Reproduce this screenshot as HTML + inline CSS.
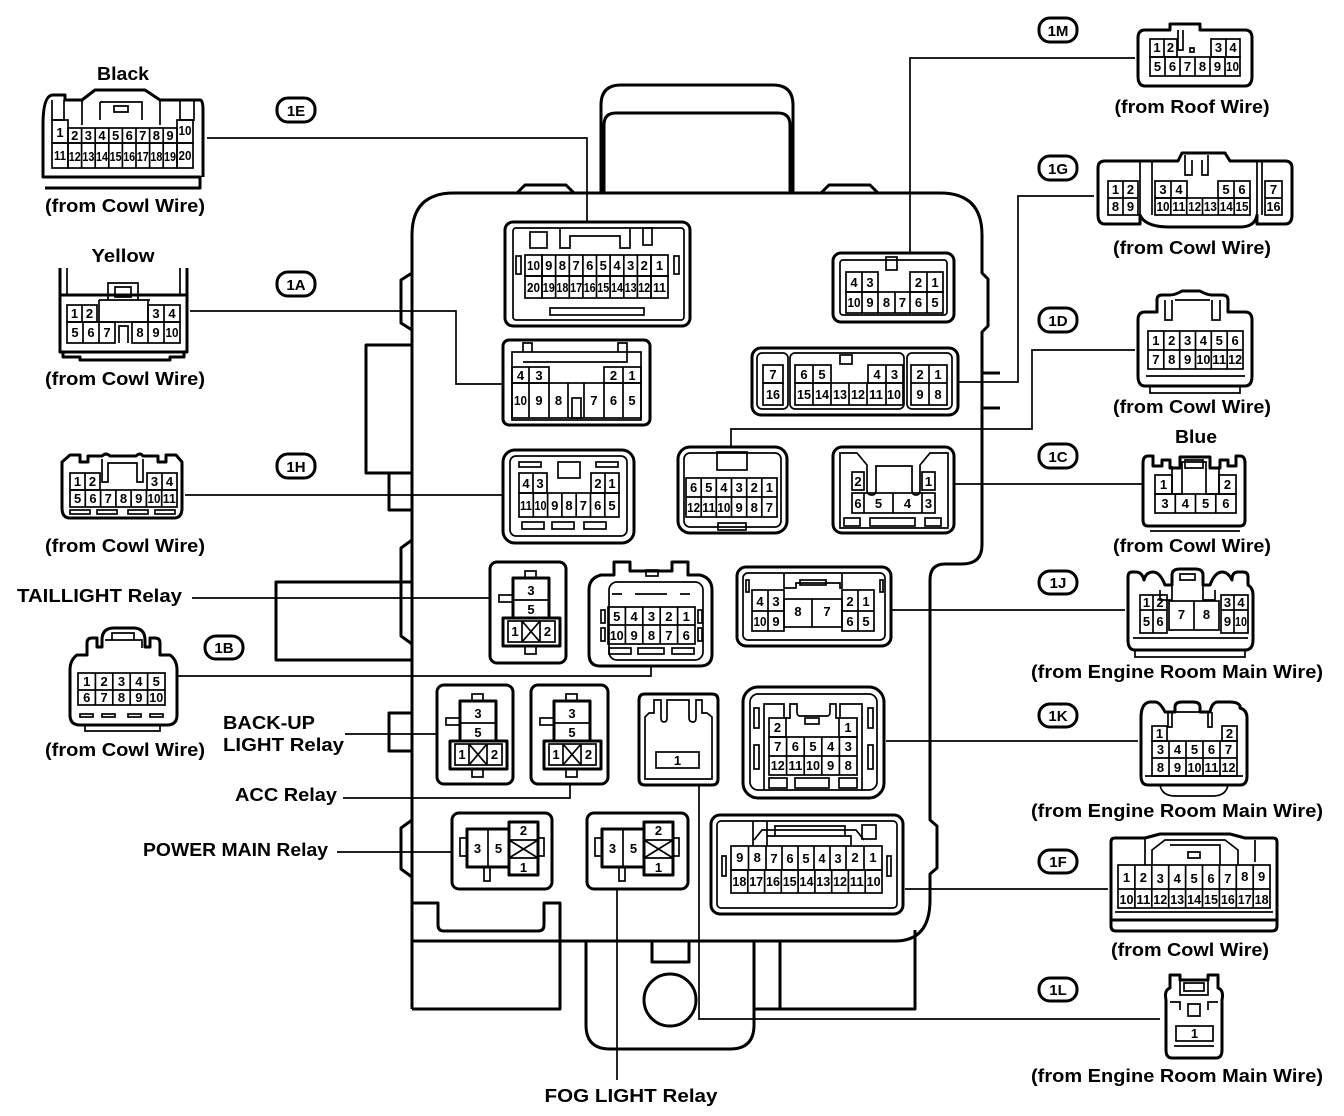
<!DOCTYPE html>
<html><head><meta charset="utf-8"><style>
html,body{margin:0;padding:0;background:#fff}
svg{display:block}
.o{fill:none;stroke:#000;stroke-width:3;stroke-linejoin:round}
.c{fill:none;stroke:#000;stroke-width:1.7}
.l{fill:none;stroke:#000;stroke-width:1.7}
text{font-family:"Liberation Sans",Arial,sans-serif;fill:#000}
.n{font-size:13px;font-weight:bold;text-anchor:middle}
.lb{font-size:18px;font-weight:bold}
.m{text-anchor:middle}
.p{font-size:15px;font-weight:bold;text-anchor:middle}
</style></head><body>
<svg width="1344" height="1116" viewBox="0 0 1344 1116" xmlns="http://www.w3.org/2000/svg">

<!-- ===== MAIN BODY ===== -->
<path class="o" d="M601 193 V105 Q601 85 621 85 H773 Q793 85 793 105 V193"/>
<path class="o" d="M604 193 V125 Q604 113 616 113 H778 Q790 113 790 125 V193"/>
<path class="o" d="M412 1009 V235 Q412 193 454 193 H940 Q982 193 982 235 V273 L988 279 V326 L982 332 V545 Q982 564 962 564 H945 Q930 564 930 580 V820 L937 826 V868 L930 874 V900 Q930 941 895 941 H412"/>
<path class="o" d="M517 193 L525 185 H566 L574 193 M821 193 L829 185 H870 L878 193"/>
<path class="o" d="M982 373 H1000 M982 408 H1000"/>
<path class="o" d="M412 273 L401 280 V323 L412 330"/>
<path class="o" d="M412 345 H366 V473 H412 M389 473 V510 H412"/>
<path class="o" d="M412 582 H276 V660 H412"/>
<path class="o" d="M412 540 L401 548 V636 L412 644"/>
<path class="o" d="M412 713 H389 V751 H412"/>
<path class="o" d="M412 820 L401 828 V869 L412 877"/>
<path class="o" d="M412 903 H438 V925 Q438 931 444 931 H538 Q544 931 544 925 V903 H560 V1009 H412"/>
<path class="o" d="M586 941 V1025 Q586 1049 610 1049 H730 Q754 1049 754 1025 V941"/>
<path class="o" d="M652 941 V962 H689 V941"/>
<path class="o" d="M754 1009 H915 V930 M780 941 V1009"/>
<circle class="o" cx="670" cy="1000" r="26"/>

<!-- ===== 1E socket ===== -->
<rect class="o" x="505" y="222" width="185" height="104" rx="8"/>
<rect class="c" x="513" y="228" width="171" height="92" rx="3"/>
<path class="c" d="M560 228 V248 H570 V236 H620 V248 H630 V228"/>
<rect class="c" x="530" y="232" width="17" height="16"/>
<rect class="c" x="643" y="228" width="9" height="17"/>
<rect class="c" x="550" y="308" width="94" height="7"/>
<rect class="c" x="516" y="256" width="5" height="18"/><rect class="c" x="674" y="256" width="5" height="18"/>
<g class="c">
<rect x="525" y="255" width="17" height="21"/><rect x="542" y="255" width="109" height="21"/><rect x="651" y="255" width="17" height="21"/>
<rect x="525" y="276" width="17" height="22"/><rect x="542" y="276" width="109" height="22"/><rect x="651" y="276" width="17" height="22"/>
<path d="M555.6 255V298M569.3 255V298M582.9 255V298M596.5 255V298M610.1 255V298M623.8 255V298M637.4 255V298"/>
</g>
<g class="n">
<text x="533.5" y="270" textLength="13" lengthAdjust="spacingAndGlyphs">10</text><text x="548.8" y="270">9</text><text x="562.4" y="270">8</text><text x="576.1" y="270">7</text><text x="589.7" y="270">6</text><text x="603.3" y="270">5</text><text x="617" y="270">4</text><text x="630.6" y="270">3</text><text x="644.2" y="270">2</text><text x="659.5" y="270">1</text>
<text x="533.5" y="292" textLength="13" lengthAdjust="spacingAndGlyphs">20</text><text x="548.8" y="292" textLength="12" lengthAdjust="spacingAndGlyphs">19</text><text x="562.4" y="292" textLength="12" lengthAdjust="spacingAndGlyphs">18</text><text x="576.1" y="292" textLength="12" lengthAdjust="spacingAndGlyphs">17</text><text x="589.7" y="292" textLength="12" lengthAdjust="spacingAndGlyphs">16</text><text x="603.3" y="292" textLength="12" lengthAdjust="spacingAndGlyphs">15</text><text x="617" y="292" textLength="12" lengthAdjust="spacingAndGlyphs">14</text><text x="630.6" y="292" textLength="12" lengthAdjust="spacingAndGlyphs">13</text><text x="644.2" y="292" textLength="12" lengthAdjust="spacingAndGlyphs">12</text><text x="659.5" y="292" textLength="13" lengthAdjust="spacingAndGlyphs">11</text>
</g>

<!-- ===== 1M socket ===== -->
<rect class="o" x="833" y="253" width="121" height="69" rx="8"/>
<rect class="c" x="840" y="260" width="107" height="55" rx="3"/>
<rect class="c" x="886" y="257" width="11" height="13"/>
<g class="c">
<rect x="846" y="272" width="32" height="20"/><path d="M862 272V313"/>
<rect x="910" y="272" width="33" height="20"/><path d="M927 272V313"/>
<rect x="846" y="292" width="97" height="21"/><path d="M878 292V313M895 292V313M910 292V313"/>
</g>
<g class="n">
<text x="854" y="287">4</text><text x="870" y="287">3</text><text x="918.5" y="287">2</text><text x="935" y="287">1</text>
<text x="854" y="307" textLength="13" lengthAdjust="spacingAndGlyphs">10</text><text x="870" y="307">9</text><text x="886.5" y="307">8</text><text x="902.5" y="307">7</text><text x="918.5" y="307">6</text><text x="935" y="307">5</text>
</g>

<!-- ===== 1A socket ===== -->
<rect class="o" x="503" y="340" width="147" height="85" rx="6"/>
<rect class="c" x="512" y="352" width="129" height="68"/>
<path class="c" d="M523 352 V343 H532 V352 M618 352 V343 H627 V352 M523 362 H627 V352"/>
<g class="c">
<rect x="512" y="367" width="37" height="16"/><path d="M529 367V418"/>
<rect x="604" y="367" width="37" height="16"/><path d="M623 367V418"/>
<rect x="512" y="383" width="129" height="35"/><path d="M549 383V418M568 383V418M584 383V418M604 383V418"/>
<rect x="572" y="398" width="9" height="20"/>
</g>
<g class="n">
<text x="520.5" y="380">4</text><text x="539" y="380">3</text><text x="613.5" y="380">2</text><text x="632" y="380">1</text>
<text x="520.5" y="405" textLength="13" lengthAdjust="spacingAndGlyphs">10</text><text x="539" y="405">9</text><text x="558.5" y="405">8</text><text x="594" y="405">7</text><text x="613.5" y="405">6</text><text x="632" y="405">5</text>
</g>

<!-- ===== 1G socket ===== -->
<rect class="o" x="752" y="348" width="206" height="67" rx="9"/>
<rect class="c" x="757" y="353" width="31" height="56" rx="5"/>
<rect class="c" x="790" y="353" width="114" height="56" rx="5"/>
<rect class="c" x="907" y="353" width="45" height="56" rx="5"/>
<rect class="c" x="840" y="355" width="12" height="9"/>
<g class="c">
<rect x="763" y="365" width="20" height="18"/><rect x="763" y="383" width="20" height="22"/>
<rect x="795" y="365" width="36" height="18"/><path d="M813 365V405"/>
<rect x="868" y="365" width="35" height="18"/><path d="M886 365V405"/>
<rect x="795" y="383" width="108" height="22"/><path d="M831 383V405M849 383V405M867 383V405"/>
<rect x="911" y="365" width="36" height="40"/><path d="M929 365V405M911 383H947"/>
</g>
<g class="n">
<text x="773" y="379">7</text><text x="773" y="399" textLength="14" lengthAdjust="spacingAndGlyphs">16</text>
<text x="804" y="379">6</text><text x="822" y="379">5</text><text x="877" y="379">4</text><text x="894.5" y="379">3</text>
<text x="804" y="399" textLength="14" lengthAdjust="spacingAndGlyphs">15</text><text x="822" y="399" textLength="14" lengthAdjust="spacingAndGlyphs">14</text><text x="840" y="399" textLength="14" lengthAdjust="spacingAndGlyphs">13</text><text x="858" y="399" textLength="14" lengthAdjust="spacingAndGlyphs">12</text><text x="876" y="399" textLength="14" lengthAdjust="spacingAndGlyphs">11</text><text x="894" y="399" textLength="14" lengthAdjust="spacingAndGlyphs">10</text>
<text x="920" y="379">2</text><text x="938" y="379">1</text><text x="920" y="399">9</text><text x="938" y="399">8</text>
</g>

<!-- ===== 1H socket ===== -->
<rect class="o" x="503" y="450" width="131" height="93" rx="12"/>
<rect class="c" x="510" y="456" width="117" height="80" rx="6"/>
<rect class="c" x="558" y="462" width="22" height="16"/>
<rect class="c" x="519" y="462" width="22" height="5"/><rect class="c" x="596" y="462" width="22" height="5"/>
<g class="c">
<rect x="519" y="473" width="28" height="20"/><path d="M533 473V493"/>
<rect x="591" y="473" width="28" height="20"/><path d="M605 473V493"/>
<rect x="519" y="493" width="100" height="24"/><path d="M533.3 493V517M547.6 493V517M561.9 493V517M576.2 493V517M590.5 493V517M604.8 493V517"/>
<rect x="522" y="522" width="22" height="7"/><rect x="552" y="522" width="22" height="7"/><rect x="584" y="522" width="22" height="7"/>
</g>
<g class="n">
<text x="526" y="488">4</text><text x="540" y="488">3</text><text x="598" y="488">2</text><text x="612" y="488">1</text>
<text x="526" y="510" textLength="12" lengthAdjust="spacingAndGlyphs">11</text><text x="540.5" y="510" textLength="12" lengthAdjust="spacingAndGlyphs">10</text><text x="554.8" y="510">9</text><text x="569" y="510">8</text><text x="583.4" y="510">7</text><text x="597.7" y="510">6</text><text x="612" y="510">5</text>
</g>

<!-- ===== 1D socket ===== -->
<rect class="o" x="678" y="447" width="109" height="86" rx="12"/>
<rect class="c" x="684" y="453" width="97" height="74" rx="6"/>
<rect class="c" x="717" y="452" width="30" height="18"/>
<rect class="c" x="718" y="523" width="28" height="7"/>
<g class="c">
<rect x="686" y="478" width="91" height="39"/><path d="M686 497H777M701.2 478V517M716.3 478V517M731.5 478V517M746.7 478V517M761.8 478V517"/>
</g>
<g class="n">
<text x="693.6" y="492">6</text><text x="708.8" y="492">5</text><text x="723.9" y="492">4</text><text x="739.1" y="492">3</text><text x="754.3" y="492">2</text><text x="769.4" y="492">1</text>
<text x="693.6" y="512" textLength="13" lengthAdjust="spacingAndGlyphs">12</text><text x="708.8" y="512" textLength="13" lengthAdjust="spacingAndGlyphs">11</text><text x="723.9" y="512" textLength="13" lengthAdjust="spacingAndGlyphs">10</text><text x="739.1" y="512">9</text><text x="754.3" y="512">8</text><text x="769.4" y="512">7</text>
</g>

<!-- ===== 1C socket ===== -->
<rect class="o" x="833" y="447" width="121" height="86" rx="9"/>
<path class="c" d="M840 528 V453 H857 L867 465 V490 Q867 495 872 495 Q876 495 876 490 V466 H912 V490 Q912 495 916 495 Q920 495 920 490 V465 L930 453 H948 V528 Z"/>
<g class="c">
<rect x="852" y="472" width="12" height="18"/><rect x="922" y="472" width="13" height="18"/>
<rect x="852" y="493" width="83" height="20"/><path d="M864 493V513M893 493V513M922 493V513"/>
<rect x="844" y="518" width="16" height="8"/><rect x="870" y="518" width="45" height="8"/><rect x="925" y="518" width="16" height="8"/>
</g>
<g class="n">
<text x="858" y="486">2</text><text x="928.5" y="486">1</text>
<text x="858" y="508">6</text><text x="878.5" y="508">5</text><text x="907.5" y="508">4</text><text x="928.5" y="508">3</text>
</g>

<!-- ===== relays (tall type) ===== -->
<g transform="translate(490,562)">
<rect class="o" x="0" y="0" width="76" height="101" rx="7"/>
<rect class="o" x="23" y="16" width="36" height="40"/><path class="c" d="M23 38H59"/>
<rect class="o" x="13" y="56" width="57" height="28"/>
<rect class="c" x="18" y="59" width="47" height="21"/><path class="c" d="M32 59V80M50 59V80M32 59L50 80M50 59L32 80"/>
<rect class="c" x="35" y="9" width="11" height="7"/><rect class="c" x="9" y="33" width="14" height="7"/><rect class="c" x="35" y="84" width="11" height="8"/>
<text class="n" x="41" y="33">3</text><text class="n" x="41" y="52">5</text><text class="n" x="25" y="74">1</text><text class="n" x="57.5" y="74">2</text>
</g>
<g transform="translate(437,685)">
<rect class="o" x="0" y="0" width="76" height="99" rx="7"/>
<rect class="o" x="23" y="16" width="36" height="40"/><path class="c" d="M23 38H59"/>
<rect class="o" x="13" y="56" width="57" height="28"/>
<rect class="c" x="18" y="59" width="47" height="21"/><path class="c" d="M32 59V80M50 59V80M32 59L50 80M50 59L32 80"/>
<rect class="c" x="35" y="9" width="11" height="7"/><rect class="c" x="9" y="33" width="14" height="7"/><rect class="c" x="35" y="84" width="11" height="8"/>
<text class="n" x="41" y="33">3</text><text class="n" x="41" y="52">5</text><text class="n" x="25" y="74">1</text><text class="n" x="57.5" y="74">2</text>
</g>
<g transform="translate(531,685)">
<rect class="o" x="0" y="0" width="77" height="99" rx="7"/>
<rect class="o" x="23" y="16" width="36" height="40"/><path class="c" d="M23 38H59"/>
<rect class="o" x="13" y="56" width="57" height="28"/>
<rect class="c" x="18" y="59" width="47" height="21"/><path class="c" d="M32 59V80M50 59V80M32 59L50 80M50 59L32 80"/>
<rect class="c" x="35" y="9" width="11" height="7"/><rect class="c" x="9" y="33" width="14" height="7"/><rect class="c" x="35" y="84" width="11" height="8"/>
<text class="n" x="41" y="33">3</text><text class="n" x="41" y="52">5</text><text class="n" x="25" y="74">1</text><text class="n" x="57.5" y="74">2</text>
</g>

<!-- ===== relays (small type) ===== -->
<g transform="translate(452,813)">
<rect class="o" x="0" y="0" width="100" height="76" rx="7"/>
<rect class="o" x="15" y="16" width="42" height="38"/><path class="c" d="M36 16V54"/>
<rect class="o" x="57" y="9" width="29" height="53"/><path class="c" d="M57 27H86M57 45H86M57 27L86 45M86 27L57 45"/>
<rect class="c" x="8" y="25" width="7" height="18"/><rect class="c" x="86" y="25" width="6" height="18"/><rect class="c" x="32" y="54" width="6" height="14"/>
<text class="n" x="25.5" y="40">3</text><text class="n" x="46.5" y="40">5</text><text class="n" x="71.5" y="22">2</text><text class="n" x="71.5" y="59">1</text>
</g>
<g transform="translate(587,813)">
<rect class="o" x="0" y="0" width="101" height="76" rx="7"/>
<rect class="o" x="15" y="16" width="42" height="38"/><path class="c" d="M36 16V54"/>
<rect class="o" x="57" y="9" width="29" height="53"/><path class="c" d="M57 27H86M57 45H86M57 27L86 45M86 27L57 45"/>
<rect class="c" x="8" y="25" width="7" height="18"/><rect class="c" x="86" y="25" width="6" height="18"/><rect class="c" x="32" y="54" width="6" height="14"/>
<text class="n" x="25.5" y="40">3</text><text class="n" x="46.5" y="40">5</text><text class="n" x="71.5" y="22">2</text><text class="n" x="71.5" y="59">1</text>
</g>

<!-- ===== 1B socket ===== -->
<path class="o" d="M600 666 H700 Q712 666 712 654 V590 Q712 578 700 575 H688 V562 H672 V571 H630 V562 H614 V575 H601 Q589 578 589 590 V654 Q589 666 600 666 Z"/>
<rect class="c" x="609" y="582" width="94" height="78" rx="8"/>
<rect class="c" x="646" y="570" width="12" height="6"/>
<path class="c" d="M612 594H622M635 594H667M680 594H690"/>
<g class="c">
<rect x="608" y="607" width="87" height="37"/><path d="M608 625H695M625.4 607V644M642.8 607V644M660.2 607V644M677.6 607V644"/>
<rect x="601" y="610" width="4" height="13"/><rect x="698" y="610" width="4" height="13"/>
<rect x="601" y="628" width="4" height="13"/><rect x="698" y="628" width="4" height="13"/>
<rect x="609" y="648" width="22" height="6"/><rect x="638" y="648" width="26" height="6"/><rect x="672" y="648" width="22" height="6"/>
</g>
<g class="n">
<text x="616.7" y="621">5</text><text x="634.1" y="621">4</text><text x="651.5" y="621">3</text><text x="668.9" y="621">2</text><text x="686.3" y="621">1</text>
<text x="616.7" y="640" textLength="14" lengthAdjust="spacingAndGlyphs">10</text><text x="634.1" y="640">9</text><text x="651.5" y="640">8</text><text x="668.9" y="640">7</text><text x="686.3" y="640">6</text>
</g>

<!-- ===== 1J socket ===== -->
<rect class="o" x="737" y="567" width="154" height="79" rx="9"/>
<rect class="c" x="743" y="573" width="142" height="67" rx="5"/>
<path class="c" d="M784 573 V588 H796 V583 H840 V588 H842 V573"/>
<rect class="c" x="800" y="580" width="26" height="5"/>
<g class="c">
<rect x="752" y="590" width="32" height="41"/><path d="M752 611H784M768 590V631"/>
<rect x="842" y="590" width="32" height="41"/><path d="M842 611H874M858 590V631"/>
<rect x="784" y="599" width="58" height="28"/><path d="M812 599V627"/>
<rect x="746" y="580" width="3" height="12"/><rect x="880" y="580" width="3" height="12"/>
</g>
<g class="n">
<text x="760" y="606">4</text><text x="776" y="606">3</text><text x="850" y="606">2</text><text x="866" y="606">1</text>
<text x="760" y="626" textLength="13" lengthAdjust="spacingAndGlyphs">10</text><text x="776" y="626">9</text><text x="850" y="626">6</text><text x="866" y="626">5</text>
<text x="798" y="616">8</text><text x="827" y="616">7</text>
</g>

<!-- ===== 1L socket ===== -->
<path class="o" d="M645 785 H712 Q718 785 718 779 V700 Q718 694 712 694 H645 Q639 694 639 700 V779 Q639 785 645 785 Z"/>
<path class="c" d="M645 779 V717 L649 713 H654 V700 H661 V718 Q661 722 664 722 Q667 722 667 718 V700 H689 V718 Q689 722 693 722 Q696 722 696 718 V700 H702 V713 H707 L712 717 V779 Z"/>
<rect class="c" x="656" y="752" width="43" height="16"/>
<text class="n" x="677.5" y="765">1</text>

<!-- ===== 1K socket ===== -->
<rect class="o" x="743" y="687" width="141" height="111" rx="15"/>
<rect class="c" x="750" y="694" width="127" height="96" rx="8"/>
<path class="c" d="M764 790 V704 H784 V718 H790 V704 H797 V712 Q797 716 800 716 H827 Q830 716 830 712 V704 H836 V718 H840 V704 H862 V790"/>
<rect class="c" x="805" y="718" width="14" height="6"/>
<g class="c">
<rect x="769" y="718" width="17" height="19"/><rect x="839" y="718" width="18" height="19"/>
<rect x="769" y="737" width="88" height="38"/><path d="M769 756H857M786.6 737V775M804.2 737V775M821.8 737V775M839.4 737V775"/>
<rect x="754" y="708" width="5" height="20"/><rect x="868" y="708" width="5" height="20"/>
<rect x="754" y="745" width="5" height="24"/><rect x="868" y="745" width="5" height="24"/>
<rect x="769" y="778" width="18" height="10"/><rect x="795" y="778" width="34" height="10"/><rect x="839" y="778" width="18" height="10"/>
</g>
<g class="n">
<text x="777.5" y="732">2</text><text x="848" y="732">1</text>
<text x="777.8" y="751">7</text><text x="795.4" y="751">6</text><text x="813" y="751">5</text><text x="830.6" y="751">4</text><text x="848.2" y="751">3</text>
<text x="777.8" y="770" textLength="14" lengthAdjust="spacingAndGlyphs">12</text><text x="795.4" y="770" textLength="14" lengthAdjust="spacingAndGlyphs">11</text><text x="813" y="770" textLength="14" lengthAdjust="spacingAndGlyphs">10</text><text x="830.6" y="770">9</text><text x="848.2" y="770">8</text>
</g>

<!-- ===== 1F socket ===== -->
<rect class="o" x="711" y="815" width="192" height="99" rx="9"/>
<rect class="c" x="717" y="821" width="180" height="87" rx="4"/>
<path class="c" d="M753 821 V846 M767 821 V846 M754 840 L762 830 H856 L864 840 M767 836 H851 V846 M775 836 V826 H845 V836"/>
<rect class="c" x="862" y="825" width="14" height="14"/>
<g class="c">
<rect x="731" y="846" width="151" height="24"/><path d="M748.5 846V870M766 846V870M782 846V870M798 846V870M814 846V870M830 846V870M846 846V870M864 846V870"/>
<rect x="731" y="870" width="151" height="23"/><path d="M747.8 870V893M764.6 870V893M781.3 870V893M798.1 870V893M814.9 870V893M831.7 870V893M848.4 870V893M865.2 870V893"/>
<rect x="722" y="856" width="4" height="20"/><rect x="887" y="856" width="4" height="20"/>
</g>
<g class="n">
<text x="739.7" y="862">9</text><text x="757.2" y="862">8</text><text x="774" y="863">7</text><text x="790" y="863">6</text><text x="806" y="863">5</text><text x="822" y="863">4</text><text x="838" y="863">3</text><text x="855" y="862">2</text><text x="873" y="862">1</text>
<text x="739.4" y="886" textLength="14" lengthAdjust="spacingAndGlyphs">18</text><text x="756.2" y="886" textLength="14" lengthAdjust="spacingAndGlyphs">17</text><text x="773" y="886" textLength="14" lengthAdjust="spacingAndGlyphs">16</text><text x="789.7" y="886" textLength="14" lengthAdjust="spacingAndGlyphs">15</text><text x="806.5" y="886" textLength="14" lengthAdjust="spacingAndGlyphs">14</text><text x="823.3" y="886" textLength="14" lengthAdjust="spacingAndGlyphs">13</text><text x="840" y="886" textLength="14" lengthAdjust="spacingAndGlyphs">12</text><text x="856.8" y="886" textLength="14" lengthAdjust="spacingAndGlyphs">11</text><text x="873.6" y="886" textLength="14" lengthAdjust="spacingAndGlyphs">10</text>
</g>

<!-- ===== LEADER LINES ===== -->
<g class="l">
<path d="M207 138 H587 V222"/>
<path d="M190 311 H456 V384 H503"/>
<path d="M185 495 H503"/>
<path d="M192 598 H490"/>
<path d="M178 676 H651 V667"/>
<path d="M345 734 H437"/>
<path d="M343 798 H570 V784"/>
<path d="M337 852 H452"/>
<path d="M617 889 V1080"/>
<path d="M1135 58 H910 V253"/>
<path d="M1094 196 H1018 V382 H958"/>
<path d="M1135 350 H1032 V429 H731 V447"/>
<path d="M955 484 H1143"/>
<path d="M891 610 H1125"/>
<path d="M886 741 H1138"/>
<path d="M905 889 H1108"/>
<path d="M699 786 V1019 H1160"/>
</g>

<!-- ===== PILL LABELS ===== -->
<g>
<rect class="o" x="277" y="98" width="38" height="24" rx="11"/><text class="p" x="296" y="116">1E</text>
<rect class="o" x="277" y="272" width="38" height="24" rx="11"/><text class="p" x="296" y="290">1A</text>
<rect class="o" x="277" y="454" width="38" height="24" rx="11"/><text class="p" x="296" y="472">1H</text>
<rect class="o" x="205" y="636" width="38" height="23" rx="11"/><text class="p" x="224" y="653">1B</text>
<rect class="o" x="1039" y="18" width="38" height="24" rx="11"/><text class="p" x="1058" y="36">1M</text>
<rect class="o" x="1039" y="156" width="38" height="24" rx="11"/><text class="p" x="1058" y="174">1G</text>
<rect class="o" x="1039" y="308" width="38" height="24" rx="11"/><text class="p" x="1058" y="326">1D</text>
<rect class="o" x="1039" y="444" width="38" height="24" rx="11"/><text class="p" x="1058" y="462">1C</text>
<rect class="o" x="1039" y="571" width="38" height="23" rx="11"/><text class="p" x="1058" y="588">1J</text>
<rect class="o" x="1039" y="704" width="38" height="23" rx="11"/><text class="p" x="1058" y="721">1K</text>
<rect class="o" x="1039" y="850" width="38" height="23" rx="11"/><text class="p" x="1058" y="867">1F</text>
<rect class="o" x="1039" y="978" width="38" height="23" rx="11"/><text class="p" x="1058" y="995">1L</text>
</g>

<!-- ===== EXTERNAL: 1E Black ===== -->
<path class="o" d="M45 188 H200 V177 H43 V125 Q43 95 53 95 H65 V100 H82 L95 90 H145 L160 100 H200 Q203 100 203 110 V177"/>
<path class="c" d="M82 100 V125 M160 100 V125 M100 102 H142 V120 M100 102 V120 M114 106 H128 V112 H114 Z M52 100 V120 H64 V100 M180 100 V120 H194 V100"/>
<g class="c">
<rect x="52" y="120" width="16" height="23"/><rect x="177" y="120" width="16" height="23"/>
<rect x="68" y="128" width="109" height="15"/><path d="M81.6 128V168M95.2 128V168M108.8 128V168M122.4 128V168M136 128V168M149.6 128V168M163.2 128V168"/>
<rect x="52" y="143" width="16" height="25"/><rect x="68" y="143" width="109" height="25"/><rect x="177" y="143" width="16" height="25"/>
</g>
<g class="n">
<text x="60" y="137">1</text><text x="74.8" y="140">2</text><text x="88.4" y="140">3</text><text x="102" y="140">4</text><text x="115.6" y="140">5</text><text x="129.2" y="140">6</text><text x="142.8" y="140">7</text><text x="156.4" y="140">8</text><text x="170" y="140">9</text><text x="185" y="135" textLength="13" lengthAdjust="spacingAndGlyphs">10</text>
<text x="60" y="160" textLength="12" lengthAdjust="spacingAndGlyphs">11</text><text x="74.8" y="161" textLength="12" lengthAdjust="spacingAndGlyphs">12</text><text x="88.4" y="161" textLength="12" lengthAdjust="spacingAndGlyphs">13</text><text x="102" y="161" textLength="12" lengthAdjust="spacingAndGlyphs">14</text><text x="115.6" y="161" textLength="12" lengthAdjust="spacingAndGlyphs">15</text><text x="129.2" y="161" textLength="12" lengthAdjust="spacingAndGlyphs">16</text><text x="142.8" y="161" textLength="12" lengthAdjust="spacingAndGlyphs">17</text><text x="156.4" y="161" textLength="12" lengthAdjust="spacingAndGlyphs">18</text><text x="170" y="161" textLength="12" lengthAdjust="spacingAndGlyphs">19</text><text x="185" y="160" textLength="13" lengthAdjust="spacingAndGlyphs">20</text>
</g>

<!-- ===== EXTERNAL: 1A Yellow ===== -->
<path class="o" d="M60 268 V352 H187 V268 M60 295 H187 M63 352 V357 H80 V360 H170 V357 H184 V352"/>
<path class="c" d="M67 268 V295 M180 268 V295 M108 300 V283 H138 V300 M115 287 H131 V297 H115 Z M99 300 H150 M99 300 V322 H148 V300"/>
<g class="c">
<rect x="67" y="305" width="30" height="17"/><path d="M82 305V322"/>
<rect x="148" y="305" width="32" height="17"/><path d="M164 305V343"/>
<rect x="67" y="322" width="48" height="21"/><path d="M83 322V343M99 322V343"/>
<rect x="132" y="322" width="48" height="21"/><path d="M148 322V343"/>
<path d="M119 343 V326 H128 V343"/>
</g>
<g class="n">
<text x="74.5" y="318">1</text><text x="89.5" y="318">2</text><text x="156" y="318">3</text><text x="172" y="318">4</text>
<text x="75" y="337">5</text><text x="91" y="337">6</text><text x="107" y="337">7</text><text x="140" y="337">8</text><text x="156" y="337">9</text><text x="172" y="337" textLength="13" lengthAdjust="spacingAndGlyphs">10</text>
</g>

<!-- ===== EXTERNAL: 1H ===== -->
<path class="o" d="M70 518 H174 Q182 518 182 508 V462 L176 455 H166 V462 H158 V456 H143 Q140 452 136 456 H110 Q106 452 102 456 H88 V462 H80 V455 H70 L62 462 V508 Q62 518 70 518 Z"/>
<path class="c" d="M102 459 V482 H108 V463 H137 V482 H143 V459"/>
<g class="c">
<rect x="70" y="473" width="30" height="17"/><path d="M85 473V490"/>
<rect x="147" y="473" width="30" height="17"/><path d="M162 473V490"/>
<rect x="70" y="490" width="107" height="17"/><path d="M85.3 490V507M100.6 490V507M115.9 490V507M131.1 490V507M146.4 490V507M161.7 490V507"/>
<rect x="70" y="510" width="20" height="4"/><rect x="97" y="510" width="20" height="4"/><rect x="128" y="510" width="20" height="4"/><rect x="155" y="510" width="20" height="4"/>
</g>
<g class="n">
<text x="77.5" y="486">1</text><text x="92.5" y="486">2</text><text x="154.5" y="486">3</text><text x="169.5" y="486">4</text>
<text x="77.6" y="503">5</text><text x="93" y="503">6</text><text x="108.2" y="503">7</text><text x="123.5" y="503">8</text><text x="138.7" y="503">9</text><text x="154" y="503" textLength="13" lengthAdjust="spacingAndGlyphs">10</text><text x="169.3" y="503" textLength="13" lengthAdjust="spacingAndGlyphs">11</text>
</g>

<!-- ===== EXTERNAL: 1B ===== -->
<path class="o" d="M80 725 H167 Q177 725 177 715 V670 Q177 660 170 655 H160 V643 Q160 638 155 638 H150 V647 H145 V640 Q145 628 133 628 H114 Q102 628 102 640 V647 H97 V638 H92 Q87 638 87 643 V655 H77 Q70 660 70 670 V715 Q70 725 80 725 Z"/>
<path class="c" d="M105 640 H142 V648 M112 633 H134 V640 H112 Z M85 725 V731 H160 V725"/>
<g class="c">
<rect x="78" y="673" width="87" height="32"/><path d="M78 690H165M95.4 673V705M112.8 673V705M130.2 673V705M147.6 673V705"/>
<rect x="80" y="714" width="13" height="3"/><rect x="102" y="714" width="13" height="3"/><rect x="128" y="714" width="13" height="3"/><rect x="150" y="714" width="13" height="3"/>
</g>
<g class="n">
<text x="86.7" y="686">1</text><text x="104.1" y="686">2</text><text x="121.5" y="686">3</text><text x="138.9" y="686">4</text><text x="156.3" y="686">5</text>
<text x="86.7" y="702">6</text><text x="104.1" y="702">7</text><text x="121.5" y="702">8</text><text x="138.9" y="702">9</text><text x="156.3" y="702" textLength="14" lengthAdjust="spacingAndGlyphs">10</text>
</g>

<!-- ===== EXTERNAL: 1M ===== -->
<path class="o" d="M1145 86 H1245 Q1252 86 1252 76 V38 Q1252 30 1245 30 H1200 V24 H1170 V30 H1145 Q1138 30 1138 38 V76 Q1138 86 1145 86 Z"/>
<path class="c" d="M1178 30 V50 H1183 V30 M1190 48 h4 v4 h-4 Z"/>
<g class="c">
<rect x="1150" y="39" width="27" height="18"/><path d="M1164 39V57"/>
<rect x="1211" y="39" width="29" height="18"/><path d="M1226 39V57"/>
<rect x="1150" y="57" width="90" height="19"/><path d="M1165 57V76M1180 57V76M1195 57V76M1210 57V76M1225 57V76"/>
</g>
<g class="n">
<text x="1157" y="52">1</text><text x="1170.5" y="52">2</text><text x="1218.5" y="52">3</text><text x="1233" y="52">4</text>
<text x="1157.5" y="71">5</text><text x="1172.5" y="71">6</text><text x="1187.5" y="71">7</text><text x="1202.5" y="71">8</text><text x="1217.5" y="71">9</text><text x="1232.5" y="71" textLength="13" lengthAdjust="spacingAndGlyphs">10</text>
</g>

<!-- ===== EXTERNAL: 1G ===== -->
<path class="o" d="M1105 224 H1140 V215 Q1145 227 1170 227 H1240 Q1255 227 1257 215 V224 H1285 Q1292 224 1292 215 V168 Q1292 161 1285 161 H1230 L1225 153 H1182 L1178 161 H1105 Q1098 161 1098 168 V215 Q1098 224 1105 224 Z"/>
<path class="c" d="M1140 161 V215 M1152 161 V215 M1257 161 V215 M1262 161 V215 M1185 155 V175 H1192 V160 M1202 160 V175 H1208 V155"/>
<g class="c">
<rect x="1108" y="181" width="30" height="34"/><path d="M1108 198H1138M1123 181V215"/>
<rect x="1155" y="181" width="32" height="17"/><path d="M1171 181V198"/>
<rect x="1218" y="181" width="32" height="17"/><path d="M1234 181V198"/>
<rect x="1155" y="198" width="95" height="17"/><path d="M1170.8 198V215M1186.7 198V215M1202.5 198V215M1218.3 198V215M1234.2 198V215"/>
<rect x="1265" y="181" width="17" height="34"/><path d="M1265 198H1282"/>
</g>
<g class="n">
<text x="1115.5" y="194">1</text><text x="1130.5" y="194">2</text><text x="1163" y="194">3</text><text x="1179" y="194">4</text><text x="1226" y="194">5</text><text x="1242" y="194">6</text><text x="1273.5" y="194">7</text>
<text x="1115.5" y="211">8</text><text x="1130.5" y="211">9</text>
<text x="1163" y="211" textLength="13" lengthAdjust="spacingAndGlyphs">10</text><text x="1178.8" y="211" textLength="13" lengthAdjust="spacingAndGlyphs">11</text><text x="1194.6" y="211" textLength="13" lengthAdjust="spacingAndGlyphs">12</text><text x="1210.4" y="211" textLength="13" lengthAdjust="spacingAndGlyphs">13</text><text x="1226.3" y="211" textLength="13" lengthAdjust="spacingAndGlyphs">14</text><text x="1242" y="211" textLength="13" lengthAdjust="spacingAndGlyphs">15</text><text x="1273.5" y="211" textLength="14" lengthAdjust="spacingAndGlyphs">16</text>
</g>

<!-- ===== EXTERNAL: 1D ===== -->
<path class="o" d="M1145 386 H1245 Q1252 386 1252 376 V320 Q1252 312 1245 312 H1228 V300 Q1228 295 1222 295 H1212 Q1207 295 1200 291 H1182 Q1175 295 1170 295 H1162 Q1157 295 1157 300 V312 H1145 Q1138 312 1138 320 V376 Q1138 386 1145 386 Z"/>
<path class="c" d="M1165 300 V320 H1172 V300 M1212 300 V320 H1220 V300 M1175 300 H1210 M1150 386 V393 H1240 V386"/>
<g class="c">
<rect x="1148" y="331" width="95" height="38"/><path d="M1148 350H1243M1163.8 331V369M1179.7 331V369M1195.5 331V369M1211.3 331V369M1227.2 331V369"/>
<path d="M1146 376H1245"/>
</g>
<g class="n">
<text x="1155.9" y="345">1</text><text x="1171.8" y="345">2</text><text x="1187.6" y="345">3</text><text x="1203.4" y="345">4</text><text x="1219.3" y="345">5</text><text x="1235.1" y="345">6</text>
<text x="1155.9" y="364">7</text><text x="1171.8" y="364">8</text><text x="1187.6" y="364">9</text><text x="1203.4" y="364" textLength="14" lengthAdjust="spacingAndGlyphs">10</text><text x="1219.3" y="364" textLength="14" lengthAdjust="spacingAndGlyphs">11</text><text x="1235.1" y="364" textLength="14" lengthAdjust="spacingAndGlyphs">12</text>
</g>

<!-- ===== EXTERNAL: 1C ===== -->
<path class="o" d="M1148 526 H1240 Q1245 526 1245 520 V463 Q1245 456 1240 456 H1236 V466 H1228 V460 H1220 V468 H1210 V457 H1180 V468 H1170 V460 H1162 V466 H1153 V456 H1148 Q1143 456 1143 463 V520 Q1143 526 1148 526 Z"/>
<path class="c" d="M1172 466 V494 H1182 V462 H1206 V494 H1219 V466 M1185 460 H1203 V468 H1185 Z M1150 531 H1240"/>
<g class="c">
<rect x="1155" y="475" width="17" height="19"/><rect x="1219" y="475" width="17" height="19"/>
<rect x="1155" y="494" width="81" height="19"/><path d="M1175.3 494V513M1195.5 494V513M1215.8 494V513"/>
</g>
<g class="n">
<text x="1163.5" y="489">1</text><text x="1227.5" y="489">2</text>
<text x="1165" y="508">3</text><text x="1185.4" y="508">4</text><text x="1205.6" y="508">5</text><text x="1225.9" y="508">6</text>
</g>

<!-- ===== EXTERNAL: 1J ===== -->
<path class="o" d="M1135 650 H1245 Q1253 650 1253 640 V595 Q1253 588 1248 585 V577 Q1248 572 1243 572 H1238 Q1232 572 1232 580 Q1228 572 1222 572 Q1215 572 1210 585 H1203 V575 Q1203 569 1195 569 H1180 Q1172 569 1172 575 V585 H1165 Q1160 572 1153 572 Q1146 572 1144 580 Q1142 572 1136 572 H1132 Q1128 572 1128 577 V640 Q1128 650 1135 650 Z"/>
<path class="c" d="M1160 590 V600 H1172 V585 M1203 585 V600 H1215 V590 M1180 574 H1195 V580 H1180 Z M1135 650 V657 H1245 V650 M1133 638 H1248"/>
<g class="c">
<rect x="1140" y="595" width="27" height="38"/><path d="M1140 610H1167M1153 595V633"/>
<rect x="1221" y="595" width="27" height="38"/><path d="M1221 610H1248M1234 595V633"/>
<rect x="1169" y="601" width="50" height="29"/><path d="M1194 601V630"/>
</g>
<g class="n">
<text x="1146.5" y="607">1</text><text x="1160" y="607">2</text><text x="1227.5" y="607">3</text><text x="1241" y="607">4</text>
<text x="1146.5" y="626">5</text><text x="1160" y="626">6</text><text x="1227.5" y="626">9</text><text x="1241" y="626" textLength="12" lengthAdjust="spacingAndGlyphs">10</text>
<text x="1181.5" y="619">7</text><text x="1206.5" y="619">8</text>
</g>

<!-- ===== EXTERNAL: 1K ===== -->
<path class="o" d="M1148 785 H1240 Q1247 785 1247 776 V718 Q1247 710 1240 708 V706 Q1238 702 1230 702 H1218 Q1212 702 1210 712 H1200 V707 Q1200 702 1193 702 H1182 Q1175 702 1175 707 V712 H1165 Q1160 702 1155 702 H1150 Q1141 703 1141 718 V776 Q1141 785 1148 785 Z"/>
<path class="c" d="M1168 712 V727 H1172 V712 M1208 712 V727 H1212 V712 M1175 712 H1205 M1160 785 Q1162 796 1175 796 H1213 Q1226 796 1228 785 M1145 776 H1243"/>
<g class="c">
<rect x="1152" y="726" width="15" height="15"/><rect x="1222" y="726" width="15" height="15"/>
<rect x="1152" y="741" width="85" height="35"/><path d="M1152 758H1237M1169 741V776M1186 741V776M1203 741V776M1220 741V776"/>
</g>
<g class="n">
<text x="1159.5" y="738">1</text><text x="1229.5" y="738">2</text>
<text x="1160.5" y="754">3</text><text x="1177.5" y="754">4</text><text x="1194.5" y="754">5</text><text x="1211.5" y="754">6</text><text x="1228.5" y="754">7</text>
<text x="1160.5" y="772">8</text><text x="1177.5" y="772">9</text><text x="1194.5" y="772" textLength="14" lengthAdjust="spacingAndGlyphs">10</text><text x="1211.5" y="772" textLength="14" lengthAdjust="spacingAndGlyphs">11</text><text x="1228.5" y="772" textLength="14" lengthAdjust="spacingAndGlyphs">12</text>
</g>

<!-- ===== EXTERNAL: 1F ===== -->
<path class="o" d="M1111 920 V842 Q1111 838 1115 838 H1145 L1160 834 H1230 L1245 838 H1273 Q1277 838 1277 842 V920 Z M1111 920 V926 Q1111 931 1116 931 H1272 Q1277 931 1277 926 V920"/>
<path class="c" d="M1145 838 V865 M1152 865 V850 L1165 840 H1225 L1238 850 V865 M1170 845 H1220 V865 M1188 852 H1200 V858 H1188 Z M1255 840 V862 M1115 912 H1273"/>
<g class="c">
<rect x="1118" y="865" width="152" height="43"/><path d="M1118 889H1270M1134.9 865V908M1151.8 865V908M1168.7 865V908M1185.6 865V908M1202.5 865V908M1219.4 865V908M1236.3 865V908M1253.2 865V908"/>
</g>
<g class="n">
<text x="1126.5" y="882">1</text><text x="1143.4" y="882">2</text><text x="1160.3" y="883">3</text><text x="1177.2" y="883">4</text><text x="1194.1" y="883">5</text><text x="1211" y="883">6</text><text x="1227.9" y="883">7</text><text x="1244.8" y="881">8</text><text x="1261.6" y="881">9</text>
<text x="1126.5" y="904" textLength="14" lengthAdjust="spacingAndGlyphs">10</text><text x="1143.4" y="904" textLength="14" lengthAdjust="spacingAndGlyphs">11</text><text x="1160.3" y="904" textLength="14" lengthAdjust="spacingAndGlyphs">12</text><text x="1177.2" y="904" textLength="14" lengthAdjust="spacingAndGlyphs">13</text><text x="1194.1" y="904" textLength="14" lengthAdjust="spacingAndGlyphs">14</text><text x="1211" y="904" textLength="14" lengthAdjust="spacingAndGlyphs">15</text><text x="1227.9" y="904" textLength="14" lengthAdjust="spacingAndGlyphs">16</text><text x="1244.8" y="904" textLength="14" lengthAdjust="spacingAndGlyphs">17</text><text x="1261.6" y="904" textLength="14" lengthAdjust="spacingAndGlyphs">18</text>
</g>

<!-- ===== EXTERNAL: 1L ===== -->
<path class="o" d="M1172 1058 H1216 Q1222 1058 1222 1050 V1000 Q1224 990 1218 988 V975 H1208 V980 H1180 V975 H1170 V988 Q1164 990 1166 1000 V1050 Q1166 1058 1172 1058 Z"/>
<path class="c" d="M1180 980 V995 H1208 V980 M1184 983 H1204 V991 H1184 Z M1188 1004 H1200 V1016 H1188 Z M1170 1002 H1180 V1010 M1208 1010 V1002 H1218 M1174 1046 H1214"/>
<rect class="c" x="1176" y="1026" width="37" height="15"/>
<text class="n" x="1194.5" y="1038">1</text>

<!-- ===== LABEL TEXT ===== -->
<g class="lb">
<text class="m" x="123" y="80" textLength="52" lengthAdjust="spacingAndGlyphs">Black</text>
<text class="m" x="125" y="212" textLength="160" lengthAdjust="spacingAndGlyphs">(from Cowl Wire)</text>
<text class="m" x="123" y="262" textLength="63" lengthAdjust="spacingAndGlyphs">Yellow</text>
<text class="m" x="125" y="385" textLength="160" lengthAdjust="spacingAndGlyphs">(from Cowl Wire)</text>
<text class="m" x="125" y="552" textLength="160" lengthAdjust="spacingAndGlyphs">(from Cowl Wire)</text>
<text x="17" y="602" textLength="165" lengthAdjust="spacingAndGlyphs">TAILLIGHT Relay</text>
<text class="m" x="125" y="756" textLength="160" lengthAdjust="spacingAndGlyphs">(from Cowl Wire)</text>
<text x="223" y="729" textLength="92" lengthAdjust="spacingAndGlyphs">BACK-UP</text>
<text x="223" y="751" textLength="121" lengthAdjust="spacingAndGlyphs">LIGHT Relay</text>
<text x="235" y="801" textLength="102" lengthAdjust="spacingAndGlyphs">ACC Relay</text>
<text x="143" y="856" textLength="185" lengthAdjust="spacingAndGlyphs">POWER MAIN Relay</text>
<text class="m" x="631" y="1102" textLength="173" lengthAdjust="spacingAndGlyphs">FOG LIGHT Relay</text>
<text class="m" x="1192" y="113" textLength="155" lengthAdjust="spacingAndGlyphs">(from Roof Wire)</text>
<text class="m" x="1192" y="254" textLength="158" lengthAdjust="spacingAndGlyphs">(from Cowl Wire)</text>
<text class="m" x="1192" y="413" textLength="158" lengthAdjust="spacingAndGlyphs">(from Cowl Wire)</text>
<text class="m" x="1196" y="443" textLength="42" lengthAdjust="spacingAndGlyphs">Blue</text>
<text class="m" x="1192" y="552" textLength="158" lengthAdjust="spacingAndGlyphs">(from Cowl Wire)</text>
<text class="m" x="1177" y="678" textLength="292" lengthAdjust="spacingAndGlyphs">(from Engine Room Main Wire)</text>
<text class="m" x="1177" y="817" textLength="292" lengthAdjust="spacingAndGlyphs">(from Engine Room Main Wire)</text>
<text class="m" x="1190" y="956" textLength="158" lengthAdjust="spacingAndGlyphs">(from Cowl Wire)</text>
<text class="m" x="1177" y="1082" textLength="292" lengthAdjust="spacingAndGlyphs">(from Engine Room Main Wire)</text>
</g>
</svg>
</body></html>
